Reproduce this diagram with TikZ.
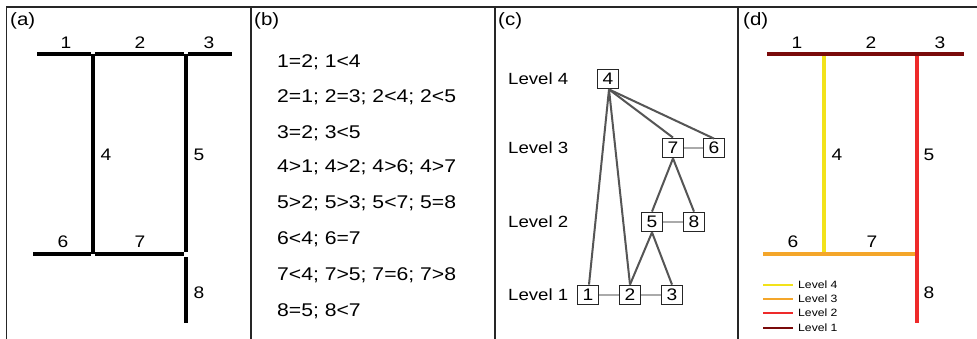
\documentclass[tikz,border=0pt]{standalone}
\usepackage{fontspec}
\setmainfont{Liberation Sans}
\newcommand{\sx}[1]{\scalebox{1.15}[1]{#1}}
\definecolor{lvlfour}{HTML}{F2E21A}
\definecolor{lvlthree}{HTML}{F4A62A}
\definecolor{lvltwo}{HTML}{EE2A2A}
\definecolor{lvlone}{HTML}{7A0A0A}
\definecolor{darkedge}{HTML}{555555}
\definecolor{lightedge}{HTML}{AAAAAA}
\begin{document}
\begin{tikzpicture}[x=1pt,y=-1pt,
  frame/.style={line width=1.8pt, draw=black!85},
  seg/.style={line width=3.2pt, draw=black},
  cseg/.style={line width=3.2pt},
  panellbl/.style={font=\fontsize{17.8}{17.8}\selectfont, inner sep=0, anchor=west},
  numlbl/.style={font=\fontsize{16.7}{16.7}\selectfont, inner sep=0},
  rel/.style={font=\fontsize{18.4}{18.4}\selectfont, inner sep=0, anchor=west},
  lvl/.style={font=\fontsize{16.2}{16.2}\selectfont, inner sep=0, anchor=west},
  box/.style={draw=black!85, line width=1.8pt, fill=white, minimum width=21pt, minimum height=19pt, inner sep=0, font=\fontsize{16.7}{16.7}\selectfont},
  hard/.style={draw=darkedge, line width=2pt},
  soft/.style={draw=lightedge, line width=1.3pt},
  legtxt/.style={font=\fontsize{10.6}{10.6}\selectfont, inner sep=0, anchor=west},
  legline/.style={line width=2.8pt}]
\useasboundingbox (0,0) rectangle (977,339);
\fill[white] (0,0) rectangle (977,339);
% frames
\draw[frame] (6,7) -- (977,7);
\draw[frame] (6.5,7) -- (6.5,339);
\draw[frame] (251,7) -- (251,339);
\draw[frame] (495,7) -- (495,339);
\draw[frame] (738,7) -- (738,339);
% panel labels
\node[panellbl] (la) at (10,21) {\sx{(a)}};
\node[panellbl] (lb) at (254,21) {\sx{(b)}};
\node[panellbl] (lc) at (498,21) {\sx{(c)}};
\node[panellbl] (ld) at (743,21) {\sx{(d)}};
% ---------- panel (a)
\coordinate (a1l) at (37,54);
\coordinate (a1r) at (91,54);
\coordinate (a2l) at (95,54);
\coordinate (a2r) at (184,54);
\coordinate (a3l) at (188,54);
\coordinate (a3r) at (232,54);
\coordinate (a4t) at (93,54);
\coordinate (a4b) at (93,254);
\coordinate (a5t) at (186,54);
\coordinate (a5b) at (186,252);
\coordinate (a6l) at (33,254);
\coordinate (a6r) at (91,254);
\coordinate (a7l) at (95,254);
\coordinate (a7r) at (184,254);
\coordinate (a8t) at (186,257);
\coordinate (a8b) at (186,323);
\draw[seg] (a1l) -- (a1r);
\draw[seg] (a2l) -- (a2r);
\draw[seg] (a3l) -- (a3r);
\draw[seg] (a4t) -- (a4b);
\draw[seg] (a5t) -- (a5b);
\draw[seg] (a6l) -- (a6r);
\draw[seg] (a7l) -- (a7r);
\draw[seg] (a8t) -- (a8b);
\node[numlbl] (an1) at (66,43) {\sx{1}};
\node[numlbl] (an2) at (140,43) {\sx{2}};
\node[numlbl] (an3) at (209,43) {\sx{3}};
\node[numlbl] (an4) at (106,155) {\sx{4}};
\node[numlbl] (an5) at (199,155) {\sx{5}};
\node[numlbl] (an6) at (63,242) {\sx{6}};
\node[numlbl] (an7) at (140,242) {\sx{7}};
\node[numlbl] (an8) at (199,293) {\sx{8}};
% ---------- panel (b)
\node[rel] (r1) at (277,62) {\sx{1=2; 1<4}};
\node[rel] (r2) at (277,97) {\sx{2=1; 2=3; 2<4; 2<5}};
\node[rel] (r3) at (277,133) {\sx{3=2; 3<5}};
\node[rel] (r4) at (277,167) {\sx{4>1; 4>2; 4>6; 4>7}};
\node[rel] (r5) at (277,203) {\sx{5>2; 5>3; 5<7; 5=8}};
\node[rel] (r6) at (277,239) {\sx{6<4; 6=7}};
\node[rel] (r7) at (277,275) {\sx{7<4; 7>5; 7=6; 7>8}};
\node[rel] (r8) at (277,311) {\sx{8=5; 8<7}};
% ---------- panel (c)
\node[lvl] (L4) at (508,79) {\sx{Level 4}};
\node[lvl] (L3) at (508,148) {\sx{Level 3}};
\node[lvl] (L2) at (508,222) {\sx{Level 2}};
\node[lvl] (L1) at (508,295) {\sx{Level 1}};
\node[box] (b4) at (608,79) {\sx{4}};
\node[box] (b7) at (673,148) {\sx{7}};
\node[box] (b6) at (714,148) {\sx{6}};
\node[box] (b5) at (652,222) {\sx{5}};
\node[box] (b8) at (694,222) {\sx{8}};
\node[box] (b1) at (588,295) {\sx{1}};
\node[box] (b2) at (630,295) {\sx{2}};
\node[box] (b3) at (672,295) {\sx{3}};
\draw[soft] (b1) -- (b2);
\draw[soft] (b2) -- (b3);
\draw[soft] (b7) -- (b6);
\draw[soft] (b5) -- (b8);
\draw[hard] ([xshift=1pt]b4.south) -- ([xshift=1pt]b1.north);
\draw[hard] ([xshift=1pt]b4.south) -- (b2.north);
\draw[hard] ([xshift=1pt]b4.south) -- (b7.north);
\draw[hard] ([xshift=1pt]b4.south) -- ([yshift=-1pt]b6.north);
\draw[hard] (b7.south) -- (b5.north);
\draw[hard] (b7.south) -- (b8.north);
\draw[hard] (b5.south) -- (b2.north);
\draw[hard] (b5.south) -- (b3.north);
% ---------- panel (d)
\coordinate (d1l) at (767,54);
\coordinate (d3r) at (964,54);
\coordinate (d4t) at (824,55);
\coordinate (d4b) at (824,254);
\coordinate (d5t) at (917,55);
\coordinate (d5b) at (917,323);
\coordinate (d6l) at (763,254);
\coordinate (d7r) at (917,254);
\draw[cseg, lvlfour] (d4t) -- (d4b);
\draw[cseg, lvlthree] (d6l) -- (d7r);
\draw[cseg, lvltwo] (d5t) -- (d5b);
\draw[cseg, lvlone] (d1l) -- (d3r);
\node[numlbl] (dn1) at (797,43) {\sx{1}};
\node[numlbl] (dn2) at (871,43) {\sx{2}};
\node[numlbl] (dn3) at (940,43) {\sx{3}};
\node[numlbl] (dn4) at (837,155) {\sx{4}};
\node[numlbl] (dn5) at (929,155) {\sx{5}};
\node[numlbl] (dn6) at (793,242) {\sx{6}};
\node[numlbl] (dn7) at (872,242) {\sx{7}};
\node[numlbl] (dn8) at (929,293) {\sx{8}};
% legend
\coordinate (g4a) at (763,285); \coordinate (g4b) at (793,285);
\coordinate (g3a) at (763,299); \coordinate (g3b) at (793,299);
\coordinate (g2a) at (763,313); \coordinate (g2b) at (793,313);
\coordinate (g1a) at (763,328); \coordinate (g1b) at (793,328);
\draw[legline, lvlfour] (g4a) -- (g4b);
\draw[legline, lvlthree] (g3a) -- (g3b);
\draw[legline, lvltwo] (g2a) -- (g2b);
\draw[legline, lvlone] (g1a) -- (g1b);
\node[legtxt] (t4) at (798,285) {\sx{Level 4}};
\node[legtxt] (t3) at (798,299) {\sx{Level 3}};
\node[legtxt] (t2) at (798,313) {\sx{Level 2}};
\node[legtxt] (t1) at (798,328) {\sx{Level 1}};
\end{tikzpicture}
\end{document}
